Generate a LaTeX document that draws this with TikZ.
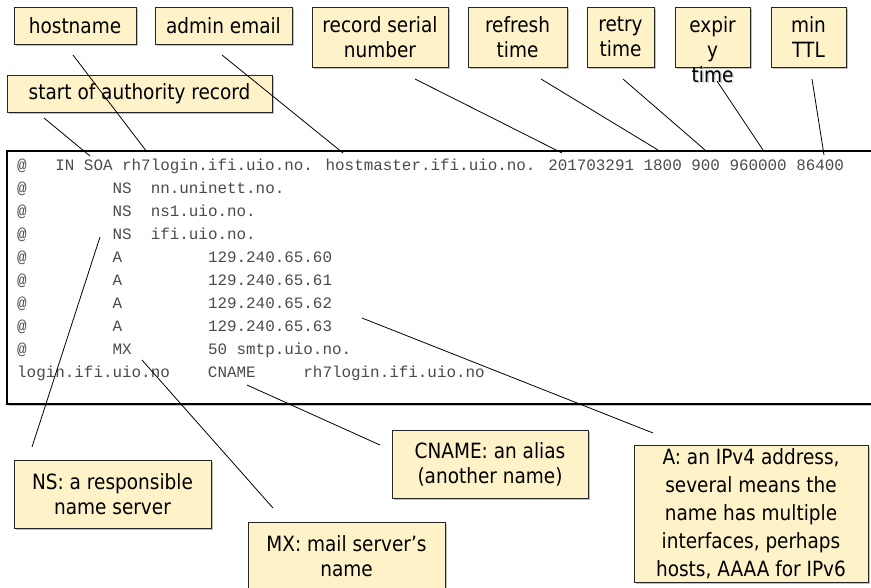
\documentclass[tikz,border=0pt]{standalone}
\usepackage{fontspec}
\usetikzlibrary{shadows}
\newfontfamily\lblfont{DejaVu Sans}[FakeStretch=0.88]
\newfontfamily\codefont{Liberation Mono}
\definecolor{lblfill}{RGB}{253,242,200}
\definecolor{codegray}{RGB}{75,75,75}
\newcommand\gap[1]{\hspace*{\dimexpr#1\fontcharwd\font`x\relax}}
\begin{document}
\begin{tikzpicture}[x=1pt,y=-1pt,
  shad/.style={drop shadow={shadow xshift=2pt,shadow yshift=-2pt,opacity=0.35,fill=black!70}},
  lbl/.style={draw=black!85, line width=0.9pt, fill=lblfill, align=center, inner sep=0pt,
    font=\lblfont\fontsize{21}{25}\selectfont, shad},
  lbltext/.style={align=center, inner sep=0pt, font=\lblfont\fontsize{21}{25}\selectfont},
  code/.style={anchor=base west, inner sep=0pt, text=codegray, font=\codefont\fontsize{15.9}{19}\selectfont},
  conn/.style={draw=black, line width=0.8pt}]
\useasboundingbox (0,0) rectangle (871,587);
\fill[white] (0,0) rectangle (871,587);

% zone file box
\node[draw=black, line width=1.1pt, fill=white, shad, minimum width=873pt, minimum height=253pt, inner sep=0pt] (zone) at (443.5,277.5) {};

% zone file text
\node[code] (l0) at (17,170) {@\gap{3}IN SOA rh7login.ifi.uio.no. hostmaster.ifi.uio.no. 201703291 1800 900 960000 86400};
\node[code] (l1) at (17,193) {@\gap{9}NS\gap{2}nn.uninett.no.};
\node[code] (l2) at (17,216) {@\gap{9}NS\gap{2}ns1.uio.no.};
\node[code] (l3) at (17,239) {@\gap{9}NS\gap{2}ifi.uio.no.};
\node[code] (l4) at (17,262) {@\gap{9}A\gap{9}129.240.65.60};
\node[code] (l5) at (17,285) {@\gap{9}A\gap{9}129.240.65.61};
\node[code] (l6) at (17,308) {@\gap{9}A\gap{9}129.240.65.62};
\node[code] (l7) at (17,331) {@\gap{9}A\gap{9}129.240.65.63};
\node[code] (l8) at (17,354) {@\gap{9}MX\gap{8}50 smtp.uio.no.};
\node[code] (l9) at (17,377) {login.ifi.uio.no\gap{4}CNAME\gap{5}rh7login.ifi.uio.no};

% top labels
\node[lbl, minimum width=122pt, minimum height=37pt] (host) at (75,25.5) {hostname};
\node[lbl, minimum width=137pt, minimum height=37pt] (admin) at (223.5,25.5) {admin email};
\node[lbl, minimum width=265pt, minimum height=37pt] (soa) at (139.5,93.5) {start of authority record};
\node[lbl, minimum width=136pt, minimum height=60pt] (serial) at (380,37) {record serial\\number};
\node[lbl, minimum width=99pt, minimum height=60pt] (refresh) at (517.5,37) {refresh\\time};
\node[lbl, minimum width=67pt, minimum height=60pt] (retry) at (620.5,37) {retry\\time};
\node[lbl, minimum width=75pt, minimum height=60pt] (expiry) at (712.5,37) {};
\node[lbltext, text=black!30, opacity=0.6] (expiryshadow) at (714,51) {\phantom{expir}\\\phantom{y}\\time};
\node[lbltext] (expirytext) at (712.5,49.5) {expir\\y\\time};
\node[lbl, minimum width=75pt, minimum height=60pt] (ttl) at (808.5,37) {min\\TTL};

% bottom labels
\node[lbl, minimum width=197pt, minimum height=68pt] (ns) at (112.5,494) {NS: a responsible\\name server};
\node[lbl, minimum width=197pt, minimum height=68pt] (mx) at (346.5,556) {MX: mail server’s\\name};
\node[lbl, minimum width=196pt, minimum height=68pt] (cname) at (490,464) {CNAME: an alias\\(another name)};
\node[lbl, minimum width=234pt, minimum height=137pt, font=\lblfont\fontsize{21}{28}\selectfont] (arec) at (751,513.5)
  {A: an IPv4 address,\\several means the\\name has multiple\\interfaces, perhaps\\hosts, AAAA for IPv6};

% connector end points
\coordinate (soa-a) at (44,118);    \coordinate (soa-b) at (90,156);
\coordinate (host-a) at (73,55);    \coordinate (host-b) at (147,152);
\coordinate (admin-a) at (222,55);  \coordinate (admin-b) at (343,153);
\coordinate (serial-a) at (415,79); \coordinate (serial-b) at (562,153);
\coordinate (refresh-a) at (541,79);\coordinate (refresh-b) at (658,150);
\coordinate (retry-a) at (623,79);  \coordinate (retry-b) at (705,150);
\coordinate (expiry-a) at (717,81); \coordinate (expiry-b) at (763,150);
\coordinate (ttl-a) at (812,79);    \coordinate (ttl-b) at (824,155);
\coordinate (ns-a) at (100,237);    \coordinate (ns-b) at (32,447);
\coordinate (mx-a) at (142,360);    \coordinate (mx-b) at (273,508);
\coordinate (cname-a) at (247,385); \coordinate (cname-b) at (380,445);
\coordinate (a-a) at (362,318);     \coordinate (a-b) at (653,433);

\draw[conn] (soa-a) -- (soa-b);
\draw[conn] (host-a) -- (host-b);
\draw[conn] (admin-a) -- (admin-b);
\draw[conn] (serial-a) -- (serial-b);
\draw[conn] (refresh-a) -- (refresh-b);
\draw[conn] (retry-a) -- (retry-b);
\draw[conn] (expiry-a) -- (expiry-b);
\draw[conn] (ttl-a) -- (ttl-b);
\draw[conn] (ns-a) -- (ns-b);
\draw[conn] (mx-a) -- (mx-b);
\draw[conn] (cname-a) -- (cname-b);
\draw[conn] (a-a) -- (a-b);
\end{tikzpicture}
\end{document}
